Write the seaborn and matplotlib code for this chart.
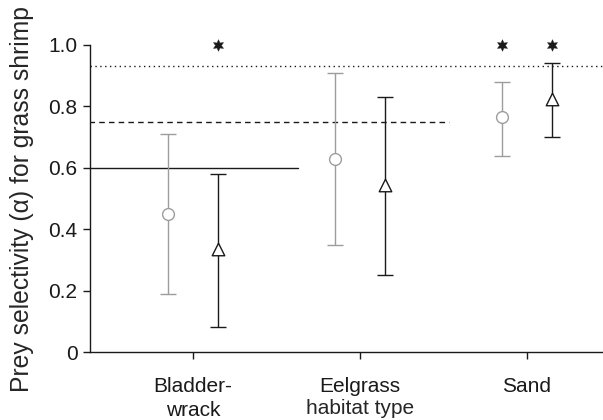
import matplotlib
matplotlib.use("Agg")
import matplotlib.pyplot as plt
import seaborn as sns
import pandas as pd
import numpy as np

# ---- data ----
habitats = ["Bladder-\nwrack", "Eelgrass", "Sand"]
circle_mean = [0.45, 0.63, 0.765]
circle_low = [0.19, 0.35, 0.64]
circle_high = [0.71, 0.91, 0.88]
circle_sig = [False, False, True]

triangle_mean = [0.335, 0.545, 0.825]
triangle_low = [0.08, 0.25, 0.70]
triangle_high = [0.58, 0.83, 0.94]
triangle_sig = [True, False, True]

ref_solid = 0.60
ref_dashed = 0.75
ref_dotted = 0.93
y_ticks = [0, 0.2, 0.4, 0.6, 0.8, 1.0]
y_tick_labels = ["0", "0.2", "0.4", "0.6", "0.8", "1.0"]

sns.set_style("ticks")
plt.rcParams["font.family"] = ["Liberation Sans", "DejaVu Sans"]
plt.rcParams["font.size"] = 15

fig = plt.figure(figsize=(6.03, 4.20), dpi=100)
ax = fig.add_axes([90 / 603, 1 - 352 / 420, 1 - 90 / 603, (352 - 45) / 420])

pos = np.arange(len(habitats))
off = 0.148
gray = "#9d9d9d"
dark = "#1a1a1a"

series = [
    ("circle", -off, circle_mean, circle_low, circle_high, circle_sig, "o", gray, 8.5),
    ("triangle", off, triangle_mean, triangle_low, triangle_high, triangle_sig, "^", dark, 9),
]

for name, dx, m, lo, hi, sig, mk, col, ms in series:
    x = pos + dx
    m = np.array(m); lo = np.array(lo); hi = np.array(hi)
    ax.errorbar(x, m, yerr=[m - lo, hi - m], fmt="none", ecolor=col,
                elinewidth=1.0, capsize=5.5, capthick=1.0, zorder=2)
    df = pd.DataFrame({"x": x, "y": m})
    sns.scatterplot(data=df, x="x", y="y", marker=mk, s=ms ** 2,
                    facecolor="white", edgecolor=col, linewidth=1.0,
                    ax=ax, zorder=3, legend=False)
    sdf = pd.DataFrame({"x": x[np.array(sig)], "y": [1.0] * int(np.sum(sig))})
    sns.scatterplot(data=sdf, x="x", y="y", marker=(6, 1, 0), s=70,
                    color=dark, edgecolor=dark, linewidth=0.3,
                    ax=ax, zorder=4, legend=False, clip_on=False)

ax.plot([-0.62, 0.63], [ref_solid, ref_solid], color=dark, lw=1.0, ls="-", zorder=1)
ax.plot([-0.62, 1.53], [ref_dashed, ref_dashed], color=dark, lw=1.0,
        ls=(0, (4, 3)), zorder=1)
ax.axhline(ref_dotted, color=dark, lw=1.0, ls=(0, (1, 2.5)), zorder=1)

ax.set_xlim(-0.617, 2.455)
ax.set_ylim(0, 1.0)
ax.set_yticks(y_ticks)
ax.set_yticklabels(y_tick_labels)
ax.set_xticks(pos)
ax.set_xticklabels(habitats, linespacing=1.32)
ax.set_ylabel("Prey selectivity (α) for grass shrimp", fontsize=17.8)
ax.yaxis.set_label_coords(-(90 - 22) / 513, 0.5)
ax.yaxis.label.set_va("center")
ax.set_xlabel("habitat type", fontsize=15)
ax.xaxis.set_label_coords((1 + 0.617) / (2.455 + 0.617), -(409 - 352) / 307)
ax.xaxis.label.set_va("center")

for s in ["top", "right"]:
    ax.spines[s].set_visible(False)
for s in ["left", "bottom"]:
    ax.spines[s].set_linewidth(1.0)
    ax.spines[s].set_color(dark)
ax.tick_params(axis="both", direction="out", length=5, width=1.0, color=dark,
               labelsize=15, labelcolor="#1a1a1a", pad=4)
ax.tick_params(axis="x", pad=13)

fig.savefig("out.png", dpi=100)
